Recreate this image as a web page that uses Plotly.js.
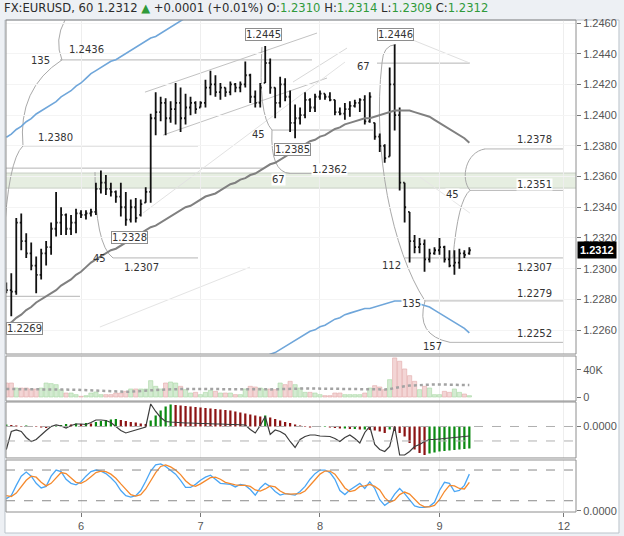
<!DOCTYPE html>
<html><head><meta charset="utf-8">
<script src="https://cdn.plot.ly/plotly-3.0.1.min.js"></script>
<style>html,body{margin:0;padding:0;background:#edf0f4;}#chart{width:624px;height:536px;}</style>
</head><body><div id="chart"></div>
<script>
// ---- data (hourly bars, EURUSD 60) ----
const FIRST_HOUR = 9; // hours counted from 5 Mar 00:00
const opens = [1.2289,1.2286,1.2285,1.2330,1.2318,1.2310,1.2302,1.2296,1.2310,1.2314,
1.2326,1.2330,1.2335,1.2326,1.2330,1.2336,1.2335,1.2336,1.2337,1.2352,
1.2356,1.2352,1.2350,1.2347,1.2340,1.2332,1.2340,1.2335,1.2343,1.2350,
1.2398,1.2402,1.2408,1.2398,1.2404,1.2408,1.2398,1.2405,1.2408,1.2405,
1.2408,1.2418,1.2420,1.2415,1.2418,1.2415,1.2420,1.2418,1.2420,1.2426,
1.2412,1.2408,1.2421,1.2434,1.2418,1.2408,1.2420,1.2412,1.2395,1.2398,
1.2400,1.2410,1.2405,1.2412,1.2414,1.2412,1.2410,1.2402,1.2401,1.2404,
1.2406,1.2408,1.2410,1.2396,1.2395,1.2386,1.2380,1.2373,1.2420,1.2400,
1.2356,1.2337,1.2318,1.2314,1.2316,1.2306,1.2310,1.2312,1.2314,1.2306,
1.2302,1.2304,1.2310,1.2310];
const highs = [1.2291,1.2297,1.2333,1.2336,1.2323,1.2317,1.2308,1.2313,1.2318,1.2330,
1.2350,1.2340,1.2336,1.2335,1.2339,1.2338,1.2338,1.2339,1.2356,1.2364,
1.2361,1.2356,1.2351,1.2356,1.2350,1.2345,1.2346,1.2345,1.2353,1.2401,
1.2415,1.2412,1.2411,1.2409,1.2421,1.2418,1.2414,1.2412,1.2409,1.2409,
1.2423,1.2429,1.2426,1.2421,1.2418,1.2422,1.2421,1.2422,1.2435,1.2427,
1.2416,1.2421,1.2445,1.2437,1.2418,1.2425,1.2424,1.2416,1.2407,1.2405,
1.2415,1.2411,1.2414,1.2416,1.2414,1.2415,1.2410,1.2405,1.2408,1.2409,
1.2410,1.2411,1.2413,1.2415,1.2395,1.2388,1.2381,1.2431,1.2446,1.2405,
1.2356,1.2337,1.2322,1.2320,1.2319,1.2313,1.2314,1.2320,1.2315,1.2312,
1.2312,1.2313,1.2312,1.2314];
const lows = [1.2284,1.2269,1.2283,1.2312,1.2307,1.2299,1.2284,1.2293,1.2302,1.2309,
1.2321,1.2322,1.2322,1.2322,1.2323,1.2333,1.2332,1.2334,1.2335,1.2349,
1.2348,1.2347,1.2343,1.2334,1.2328,1.2330,1.2330,1.2334,1.2343,1.2343,
1.2387,1.2396,1.2387,1.2395,1.2394,1.2389,1.2394,1.2400,1.2401,1.2405,
1.2405,1.2413,1.2412,1.2410,1.2412,1.2413,1.2415,1.2415,1.2418,1.2408,
1.2405,1.2405,1.2421,1.2414,1.2398,1.2405,1.2409,1.2389,1.2385,1.2394,
1.2398,1.2402,1.2402,1.2410,1.2410,1.2409,1.2400,1.2400,1.2397,1.2399,
1.2405,1.2402,1.2394,1.2395,1.2384,1.2376,1.2369,1.2373,1.2390,1.2351,
1.2330,1.2304,1.2310,1.2310,1.2298,1.2304,1.2309,1.2309,1.2304,1.2301,
1.2296,1.2300,1.2307,1.2309];
const closes = [1.2286,1.2285,1.2330,1.2318,1.2310,1.2302,1.2296,1.2310,1.2314,1.2326,
1.2330,1.2335,1.2326,1.2330,1.2336,1.2335,1.2336,1.2337,1.2352,1.2356,
1.2352,1.2350,1.2347,1.2340,1.2332,1.2340,1.2333,1.2342,1.2350,1.2398,
1.2402,1.2408,1.2398,1.2404,1.2408,1.2398,1.2405,1.2408,1.2404,1.2408,
1.2418,1.2420,1.2415,1.2418,1.2415,1.2420,1.2418,1.2420,1.2426,1.2412,
1.2408,1.2418,1.2434,1.2418,1.2408,1.2420,1.2412,1.2395,1.2398,1.2400,
1.2410,1.2405,1.2412,1.2414,1.2412,1.2410,1.2402,1.2401,1.2404,1.2406,
1.2408,1.2410,1.2396,1.2412,1.2386,1.2380,1.2372,1.2420,1.2400,1.2356,
1.2340,1.2318,1.2314,1.2316,1.2306,1.2310,1.2312,1.2314,1.2306,1.2302,
1.2304,1.2310,1.2309,1.2312];
const maPrice = [1.2263,1.2265,1.2268,1.2270,1.2273,1.2275,1.2278,1.2280,1.2282,1.2284,
1.2286,1.2289,1.2291,1.2293,1.2296,1.2298,1.2301,1.2304,1.2306,1.2308,
1.2310,1.2312,1.2313,1.2315,1.2317,1.2319,1.2321,1.2323,1.2325,1.2327,
1.2328,1.2330,1.2332,1.2334,1.2336,1.2338,1.2340,1.2341,1.2343,1.2345,
1.2347,1.2348,1.2349,1.2351,1.2353,1.2355,1.2356,1.2358,1.2359,1.2361,
1.2362,1.2364,1.2366,1.2368,1.2369,1.2371,1.2373,1.2375,1.2377,1.2379,
1.2381,1.2383,1.2384,1.2386,1.2387,1.2389,1.2391,1.2392,1.2394,1.2395,
1.2396,1.2397,1.2398,1.2398,1.2399,1.2400,1.2401,1.2402,1.2403,1.2403,
1.2403,1.2403,1.2402,1.2401,1.2400,1.2399,1.2397,1.2395,1.2393,1.2391,
1.2389,1.2387,1.2385,1.2382];
const ENVELOPE_PCT = 0.01;
const volume = [20700,20700,13300,13300,13300,11900,11900,13300,20700,19800,
18300,10900,5900,5900,3500,1000,2000,5900,7400,3500,
3500,3500,5900,5900,8400,11900,11900,11900,11900,24200,
15800,11900,20700,22200,20700,15800,10900,5900,6900,3500,
6900,9900,8400,5900,5900,5900,3500,3500,11900,15800,
14800,13300,11900,11900,10900,20700,18300,23200,18300,13300,
6900,6900,5900,3500,2000,2000,5900,5900,3500,3500,
3500,3500,5900,13300,16800,14800,10900,25700,57800,52900,
41500,31600,23200,10900,15800,13300,3500,3500,8400,6900,
11900,6900,4400,2000];
const volumeMA = [11800,11800,11700,11700,11600,11600,11500,11500,11600,11700,
11800,11700,11500,11200,10800,10400,10000,9600,9200,8800,
8500,8200,8000,7800,7800,7900,8200,8600,9000,9800,
10400,10800,11200,11600,11900,12000,12000,11900,11800,11600,
11500,11400,11300,11200,11100,11000,10900,10800,10800,10900,
11000,11100,11200,11300,11500,11800,12100,12500,12700,12800,
12700,12600,12500,12300,12100,11900,11700,11500,11300,11100,
10900,10700,10600,10700,10900,11100,11200,11800,13400,14800,
16000,16900,17400,17800,18200,18500,18600,18600,18500,18400,
18300,18100,17900,17600];
const macdHist = [0.00004,0.00003,0.00002,0.00001,0.00002,0.00001,-0.00001,-0.00002,-0.00003,-0.00001,
0.00001,0.00003,0.00005,0.00004,0.00006,0.00005,0.00007,0.00006,0.00009,0.00011,
0.00013,0.00014,0.00015,0.00013,0.00011,0.00009,0.00008,0.00006,0.00005,0.00012,
0.00022,0.00032,0.00040,0.00044,0.00043,0.00042,0.00041,0.00040,0.00039,0.00038,
0.00037,0.00036,0.00035,0.00034,0.00033,0.00032,0.00030,0.00028,0.00026,0.00024,
0.00022,0.00020,0.00022,0.00018,0.00015,0.00012,0.00009,0.00007,0.00004,0.00002,
-0.00001,-0.00002,-0.00001,-0.00001,-0.00001,-0.00002,-0.00003,-0.00004,-0.00004,-0.00005,
-0.00005,-0.00006,-0.00006,-0.00007,-0.00008,-0.00010,-0.00013,-0.00006,-0.00009,-0.00013,
-0.00020,-0.00033,-0.00046,-0.00053,-0.00057,-0.00054,-0.00052,-0.00050,-0.00049,-0.00048,
-0.00047,-0.00046,-0.00045,-0.00044];
const macdLine = [-0.00046,-0.00010,-0.00007,-0.00010,-0.00022,-0.00030,-0.00026,-0.00016,-0.00008,0.00000,
0.00003,0.00001,-0.00003,0.00002,0.00005,0.00005,0.00004,0.00008,0.00013,0.00013,
0.00012,0.00008,0.00000,-0.00008,-0.00013,-0.00010,-0.00007,-0.00004,-0.00001,0.00045,
0.00030,0.00018,0.00010,0.00009,0.00008,0.00008,0.00007,0.00007,0.00006,0.00006,
0.00006,0.00005,0.00005,0.00005,0.00004,0.00004,0.00004,0.00003,0.00003,-0.00006,
-0.00013,0.00002,0.00020,-0.00016,-0.00007,-0.00010,-0.00016,-0.00030,-0.00042,-0.00026,
-0.00020,-0.00017,-0.00017,-0.00019,-0.00020,-0.00020,-0.00024,-0.00030,-0.00022,-0.00017,
-0.00024,-0.00033,-0.00012,0.00000,-0.00036,-0.00046,-0.00050,-0.00040,0.00000,-0.00057,
-0.00057,-0.00050,-0.00040,-0.00036,-0.00030,-0.00026,-0.00026,-0.00025,-0.00024,-0.00023,
-0.00022,-0.00021,-0.00020,-0.00019];
const stochK = [24,30,50,68,76,68,54,45,48,68,
80,77,62,54,51,57,68,77,80,78,
73,65,55,40,30,27,30,40,58,78,
90,92,87,80,72,60,46,46,52,60,
66,70,62,54,53,52,47,52,50,42,
31,45,54,48,38,31,34,33,31,38,
48,62,73,80,80,75,62,40,32,41,
48,54,44,57,44,22,11,18,33,44,
34,22,10,7,7,9,17,40,56,54,
38,40,50,72];
const stochD = [30,28,35,48,60,68,66,56,49,54,
65,75,73,64,56,54,59,67,75,78,
77,72,64,53,42,32,29,32,43,59,
75,87,90,86,80,71,59,51,48,53,
59,65,66,62,56,53,51,50,50,48,
41,39,43,49,47,39,34,33,33,34,
39,49,61,72,78,78,72,59,45,38,
40,48,49,52,48,41,26,17,21,32,
37,33,22,13,8,8,11,22,38,50,
49,44,43,56];
const dayTickHours = [24,48,72,96,121];
const dayTickLabels = ['6','7','8','9','12'];
const priceTicks = [1.2260,1.2280,1.2300,1.2320,1.2340,1.2360,1.2380,1.2400,1.2420,1.2440,1.2460];
const lastPrice = 1.2312;

// ---- chart drawings (hour, price) ----
const levelLines = [
 [19.78,70.39,1.2436],[12.35,47.5,1.2380],[30.43,47.5,1.2307],[8.9,23.8,1.2282],
 [8.9,60.55,1.23655],[62.36,82.65,1.23903],[65.98,77.42,1.2362],[83.45,102.1,1.24339],
 [105.1,120.8,1.2378],[102.1,120.8,1.2351],[89.07,120.8,1.2307],[93.09,120.8,1.2279],[98.1,120.8,1.2252]];
const trendLines = [
 [36.85,1.24150,71.4,1.24535,'#c2c2c2'],[40.47,1.23870,73.41,1.24242,'#c2c2c2'],
 [36.45,1.23362,77.02,1.24346,'#e2e2e2'],[27.8,1.22620,57.94,1.23010,'#e4e4e4'],
 [66.58,1.24216,77.42,1.24437,'#d8d8d8'],[90.68,1.24489,102.12,1.24339,'#e0e0e0'],
 [92.08,1.23597,102.12,1.23362,'#e6e6e6']];
const arcPaths = [
 'M20.79,1.2462 Q18.58,1.24489 20.18,1.2436',
 'M20.18,1.2436 Q11.25,1.24173 12.35,1.2380',
 'M12.35,1.2380 Q9.34,1.23707 8.54,1.23186',
 'M26.81,1.23629 Q26.81,1.23154 30.43,1.2307',
 'M60.35,1.24444 Q59.55,1.24001 62.36,1.23903',
 'M62.36,1.23903 Q61.96,1.23629 65.98,1.2362',
 'M87.26,1.2446 Q84.65,1.24457 84.45,1.24339',
 'M84.45,1.24339 C82.45,1.23773 86.46,1.23121 93.09,1.2279',
 'M93.09,1.2279 Q91.08,1.22567 98.11,1.2252',
 'M105.14,1.2378 C101.32,1.2376 100.12,1.2359 102.13,1.2351',
 'M102.13,1.2351 Q99.72,1.23447 98.71,1.2307'];
const textLabels = [
 ['135',15.77,1.24359,false],['1.2436',25.2,1.24431,false],['1.2380',18.78,1.23857,false],
 ['45',27.8,1.23069,false],['1.2307',36.25,1.2301,false],['45',59.75,1.23877,false],
 ['1.2362',74.0,1.23649,true],['67',63.57,1.23584,true],['67',80.64,1.2432,false],
 ['112',86.46,1.23023,false],['135',90.48,1.22776,true],['157',94.5,1.22496,false],
 ['45',98.7,1.2348,true],['1.2378',115,1.23844,false],['1.2351',115,1.23551,true],
 ['1.2307',115,1.2301,false],['1.2279',115,1.22841,false],['1.2252',115,1.2258,false]];
const boxLabels = [
 ['1.2328',33.84,1.2320],['1.2269',12.6,1.22613],['1.2445',60.75,1.24528],
 ['1.2385',66.4,1.23779],['1.2446',87.26,1.24528]];

// ---- build ----
const hours = opens.map((_, i) => FIRST_HOUR + i);
const upperEnv = maPrice.map(v => v * (1 + ENVELOPE_PCT));
const lowerEnv = maPrice.map(v => v * (1 - ENVELOPE_PCT));
const volFill = closes.map((c, i) => c >= opens[i] ? '#d3ebd1' : '#f3d5d5');
const volLine = closes.map((c, i) => c >= opens[i] ? '#a9d6a5' : '#e3aaaa');
const histColor = macdHist.map((v, i) => (i === 0 || v >= macdHist[i - 1]) ? '#0b8a12' : '#8c1414');

const traces = [
 {type:'scatter', mode:'lines', x:hours, y:upperEnv, line:{color:'#6fa6da', width:1.6}, xaxis:'x', yaxis:'y'},
 {type:'scatter', mode:'lines', x:hours, y:lowerEnv, line:{color:'#6fa6da', width:1.6}, xaxis:'x', yaxis:'y'},
 {type:'scatter', mode:'lines', x:hours, y:maPrice, line:{color:'#808080', width:2}, xaxis:'x', yaxis:'y'},
 {type:'ohlc', x:hours, open:opens, high:highs, low:lows, close:closes, tickwidth:0.3,
  increasing:{line:{color:'#111111', width:1.8}}, decreasing:{line:{color:'#111111', width:1.8}}, xaxis:'x', yaxis:'y'},
 {type:'bar', x:hours, y:volume, width:0.85, marker:{color:volFill, line:{color:volLine, width:0.6}}, xaxis:'x', yaxis:'y2'},
 {type:'scatter', mode:'lines', x:hours, y:volumeMA, line:{color:'#a3a3a3', width:2.5, dash:'dot'}, xaxis:'x', yaxis:'y2'},
 {type:'bar', x:hours, y:macdHist, width:0.45, marker:{color:histColor}, xaxis:'x', yaxis:'y3'},
 {type:'scatter', mode:'lines', x:hours, y:macdLine, line:{color:'#3c3c3c', width:1.2}, xaxis:'x', yaxis:'y3'},
 {type:'scatter', mode:'lines', x:hours, y:stochK, line:{color:'#4aa6f5', width:1.3}, xaxis:'x', yaxis:'y4'},
 {type:'scatter', mode:'lines', x:hours, y:stochD, line:{color:'#f5892c', width:1.3}, xaxis:'x', yaxis:'y4'}
];

const D = {main:[0.3211,1], vol:[0.2256,0.3171], macd:[0.1098,0.2236], stoch:[0,0.1057]};
const shapes = [];
shapes.push({type:'rect', xref:'paper', yref:'paper', x0:-0.0018, x1:1.0754, y0:-0.0427, y1:1,
  fillcolor:'#ffffff', line:{color:'#bcc3cb', width:1}, layer:'below'});
shapes.push({type:'rect', xref:'paper', yref:'y', x0:0, x1:1, y0:1.23525, y1:1.23623,
  fillcolor:'#e6eee1', line:{width:0}, layer:'below'});
[1.23525,1.23623].forEach(p => shapes.push({type:'line', xref:'paper', yref:'y', x0:0, x1:1, y0:p, y1:p,
  line:{color:'#c9cfc5', width:1}, layer:'below'}));
levelLines.forEach(l => shapes.push({type:'line', xref:'x', yref:'y', x0:l[0], x1:l[1], y0:l[2], y1:l[2],
  line:{color:'#b5b5b5', width:1}, layer:'below'}));
trendLines.forEach(l => shapes.push({type:'line', xref:'x', yref:'y', x0:l[0], y0:l[1], x1:l[2], y1:l[3],
  line:{color:l[4], width:1}, layer:'below'}));
arcPaths.forEach(p => shapes.push({type:'path', xref:'x', yref:'y', path:p,
  line:{color:'#a9a9a9', width:1}, layer:'below'}));
[[0,'y3'],[-0.00029,'y3']].forEach(s => shapes.push({type:'line', xref:'paper', yref:s[1], x0:0, x1:1, y0:s[0], y1:s[0],
  line:{color:'#b0b0b0', width:1, dash:'dash'}}));
[20,80].forEach(v => shapes.push({type:'line', xref:'paper', yref:'y4', x0:0, x1:1, y0:v, y1:v,
  line:{color:'#8a8a8a', width:1, dash:'dash'}}));
Object.values(D).forEach(d => shapes.push({type:'rect', xref:'paper', yref:'paper', x0:0, x1:1, y0:d[0], y1:d[1],
  line:{color:'#8e8e8e', width:1}}));

const annotations = [];
const lblFont = {family:'DejaVu Sans, sans-serif', size:10, color:'#333'};
textLabels.forEach(t => annotations.push({xref:'x', yref:'y', x:t[1], y:t[2], text:t[0], showarrow:false,
  font:lblFont, bgcolor:t[3] ? '#ffffff' : 'rgba(0,0,0,0)', borderpad:0}));
boxLabels.forEach(t => annotations.push({xref:'x', yref:'y', x:t[1], y:t[2], text:t[0], showarrow:false,
  font:lblFont, bgcolor:'#ffffff', bordercolor:'#8e8e8e', borderwidth:1, borderpad:0}));
annotations.push({xref:'paper', yref:'y', x:1, xanchor:'left', xshift:1, y:lastPrice, text:'<b>' + lastPrice.toFixed(4) + '</b>',
  showarrow:false, font:{family:'Liberation Sans, Arial', size:11, color:'#ffffff'}, bgcolor:'#000000', borderpad:2});
const G = '#2f9a3a';
annotations.push({xref:'paper', yref:'paper', x:-0.007, xanchor:'left', y:1.0245, yanchor:'middle', showarrow:false,
  font:{family:'DejaVu Sans, sans-serif', size:11.6, color:'#2b2b2b'}, align:'left',
  text:'FX:EURUSD, 60 1.2312 <span style="color:' + G + '">▲</span> +0.0001 (+0.01%) O:<span style="color:' + G + '">1.2310</span> H:<span style="color:' + G + '">1.2314</span> L:<span style="color:' + G + '">1.2309</span> C:<span style="color:' + G + '">1.2312</span>'});

const tickFont = {family:'Liberation Sans, Arial, sans-serif', size:11, color:'#555'};
const yBase = {side:'right', anchor:'x', ticks:'outside', ticklen:4, tickcolor:'#777', tickfont:tickFont,
  zeroline:false, showline:false, fixedrange:true};
const layout = {
  width:624, height:536, margin:{l:6, r:48, t:20, b:24},
  paper_bgcolor:'#edf0f4', plot_bgcolor:'#ffffff', showlegend:false,
  font:{family:'Liberation Sans, Arial, sans-serif'},
  xaxis:{domain:[0,1], anchor:'y4', range:[8.937,123.42], tickvals:dayTickHours, ticktext:dayTickLabels,
    ticks:'outside', ticklen:4, tickcolor:'#777', tickfont:tickFont, showgrid:true, gridcolor:'#eeeeee',
    zeroline:false, showline:false, rangeslider:{visible:false}},
  yaxis:Object.assign({}, yBase, {domain:D.main, range:[1.22444,1.24620], tickvals:priceTicks, tickformat:'.4f',
    showgrid:true, gridcolor:'#f4f4f4'}),
  yaxis2:Object.assign({}, yBase, {domain:D.vol, range:[-5900,60700], tickvals:[0,40000], ticktext:['0','40K'], showgrid:false}),
  yaxis3:Object.assign({}, yBase, {domain:D.macd, range:[-0.00063,0.00049], tickvals:[0], ticktext:['0.0000'], showgrid:false}),
  yaxis4:Object.assign({}, yBase, {domain:D.stoch, range:[-2,99.6], tickvals:[0], ticktext:['0.0000'], showgrid:false}),
  shapes:shapes, annotations:annotations
};
Plotly.newPlot('chart', traces, layout, {staticPlot:true, displayModeBar:false});
</script></body></html>
